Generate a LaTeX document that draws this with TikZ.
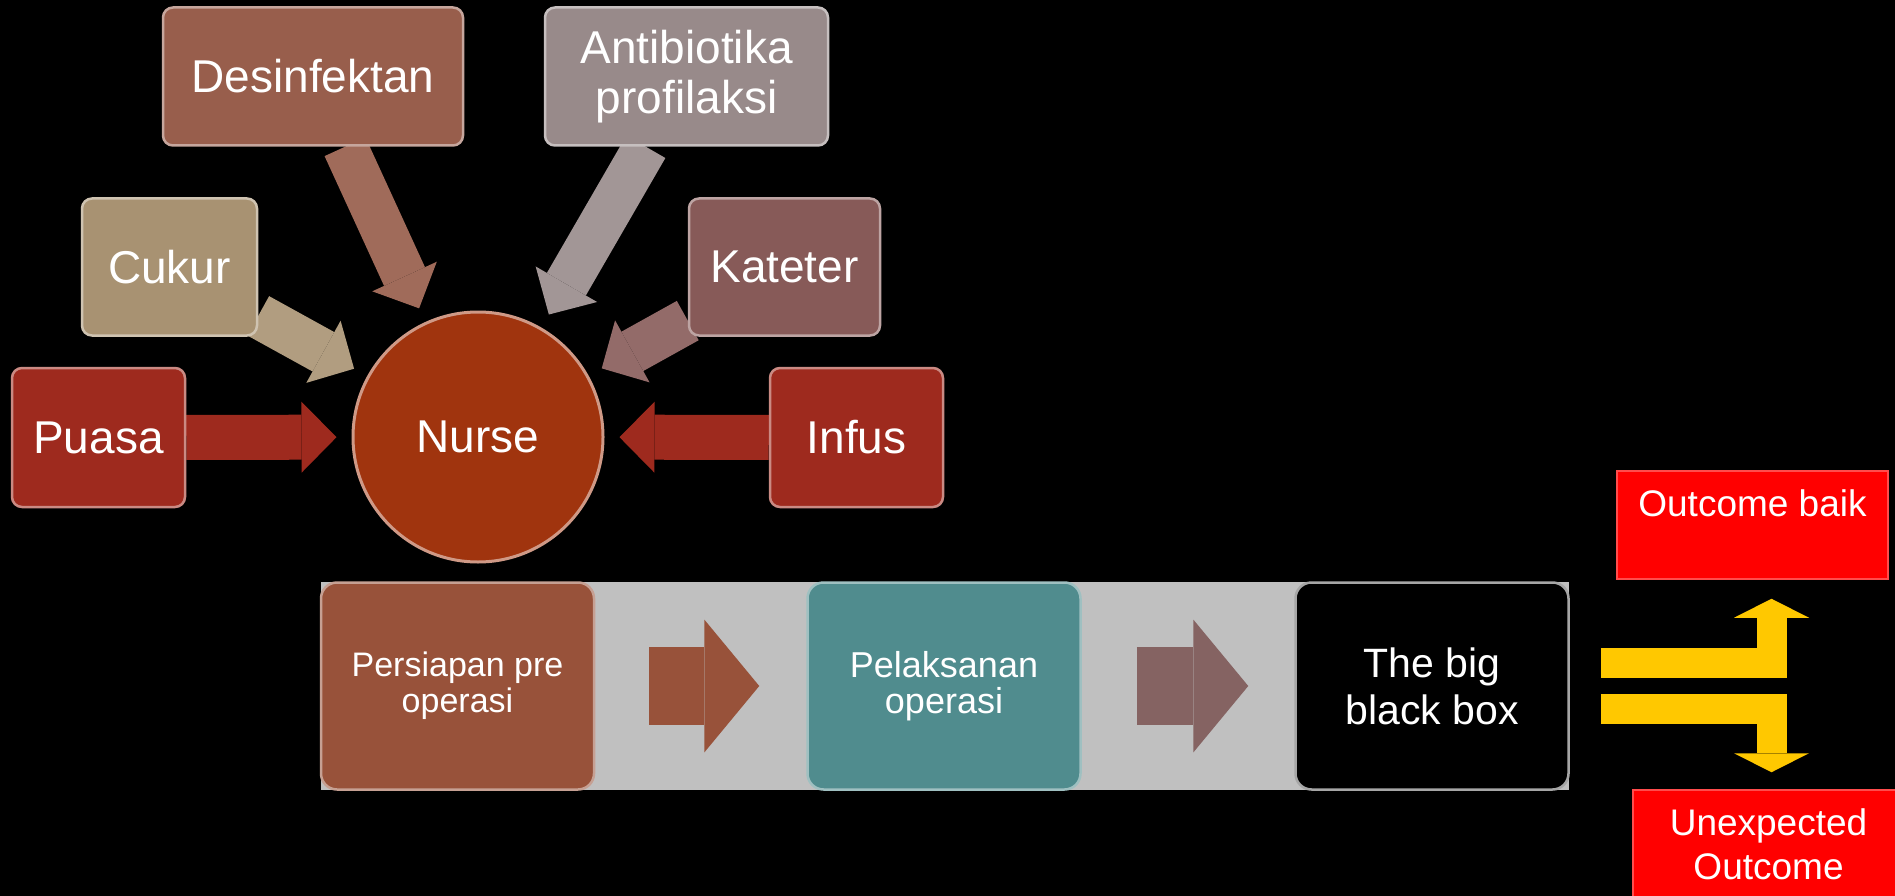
\documentclass[tikz,border=0pt]{standalone}
\usepackage{fontspec}
\setmainfont{Liberation Sans}
\usetikzlibrary{arrows.meta}
\definecolor{fastred}{HTML}{9E2A1E}
\definecolor{shavetan}{HTML}{A89272}
\definecolor{disbrown}{HTML}{985E4C}
\definecolor{drugmauve}{HTML}{988A8A}
\definecolor{cathrose}{HTML}{875A58}
\definecolor{nurserust}{HTML}{A0340E}
\definecolor{prepbrown}{HTML}{98523A}
\definecolor{optteal}{HTML}{508C8E}
\definecolor{bandgray}{HTML}{C0C0C0}
\definecolor{gold}{HTML}{FFC800}
\pgfdeclarelayer{backdrop}
\pgfdeclarelayer{links}
\pgfsetlayers{backdrop,links,main}

\begin{document}
\begin{tikzpicture}[x=1pt, y=-1pt,
    tile/.style={rectangle, rounded corners=10pt, fill=#1, draw=#1!55!white,
      line width=2.5pt, text=white, inner sep=0pt, align=center,
      font=\fontsize{46}{50}\selectfont},
    stage/.style={tile=#1, rounded corners=16pt, minimum width=273pt,
      minimum height=207pt},
    result/.style={rectangle, fill=red, draw=red!70!white, line width=1.5pt,
      text=white, inner sep=0pt, align=center, minimum width=271pt,
      minimum height=108pt, font=\fontsize{37}{44}\selectfont},
    feed/.style={line width=45pt, draw=#1,
      -{Triangle[width=71pt, length=35pt, line width=0pt]}, shorten >=15pt},
    flowarrow/.style={line width=78pt, draw=#1,
      -{Triangle[width=133pt, length=55pt, line width=0pt]}},
    goldarrow/.style={line width=30pt, draw=gold, line join=miter,
      -{Triangle[width=75pt, length=19pt, line width=0pt]}}]
  \useasboundingbox (0,0) rectangle (1895,896);
  \begin{pgfonlayer}{backdrop}
    \fill[black] (0,0) rectangle (1895,896);
    \fill[bandgray] (321,582) rectangle (1569,790);
  \end{pgfonlayer}

  % inputs round the nurse
  \node[tile=nurserust, circle, rounded corners=0pt, draw=nurserust!50!white,
    line width=3pt, minimum size=250pt] (nurse) at (478,437) {Nurse};
  \node[tile=fastred, minimum width=173pt, minimum height=139pt] (puasa) at (98.5,437.5) {Puasa};
  \node[tile=fastred, minimum width=173pt, minimum height=139pt] (infus) at (856.5,437.5) {Infus};
  \node[tile=shavetan, minimum width=175pt, minimum height=137pt] (cukur) at (169.5,267) {Cukur};
  \node[tile=cathrose, minimum width=191pt, minimum height=137pt] (kateter) at (784.5,267) {Kateter};
  \node[tile=disbrown, minimum width=300pt, minimum height=138pt] (desinf) at (313,76.5) {Desinfektan};
  \node[tile=drugmauve, minimum width=283pt, minimum height=138pt] (antib) at (686.5,76.5) {Antibiotika\\profilaksi};
  \begin{pgfonlayer}{links}
    \draw[feed=fastred] (puasa) -- (nurse);
    \draw[feed=fastred] (infus) -- (nurse);
    \draw[feed=shavetan!90!white] (cukur) -- (nurse);
    \draw[feed=cathrose!90!white] (kateter) -- (nurse);
    \draw[feed=disbrown!92!white] (desinf) -- (nurse);
    \draw[feed=drugmauve!90!white] (antib) -- (nurse);
  \end{pgfonlayer}

  % the flow
  \node[stage=prepbrown, font=\fontsize{34}{36}\selectfont] (persiapan) at (457.5,686) {Persiapan pre\\operasi};
  \node[stage=optteal, font=\fontsize{36}{36}\selectfont] (pelaksanan) at (944,686) {Pelaksanan\\operasi};
  \node[stage=black, draw=gray!70, font=\fontsize{41}{47}\selectfont] (blackbox) at (1432,686) {The big\\black box};
  \begin{pgfonlayer}{links}
    \draw[flowarrow=prepbrown, shorten <=54pt, shorten >=47pt] (persiapan) -- (pelaksanan);
    \draw[flowarrow=cathrose!75!gray, shorten <=55pt, shorten >=46pt] (pelaksanan) -- (blackbox);
  \end{pgfonlayer}

  \node[result] (baik) at (1752.5,525) {Outcome baik\\~};
  \node[result] (unexp) at (1768.5,844) {Unexpected\\Outcome};
  \draw[goldarrow] ([xshift=31pt, yshift=23pt]blackbox.east) -| ([xshift=19pt, yshift=-19pt]baik.south);
  \draw[goldarrow] ([xshift=31pt, yshift=-22.5pt]blackbox.east) -| ([xshift=3pt, yshift=17pt]unexp.north);
\end{tikzpicture}
\end{document}
